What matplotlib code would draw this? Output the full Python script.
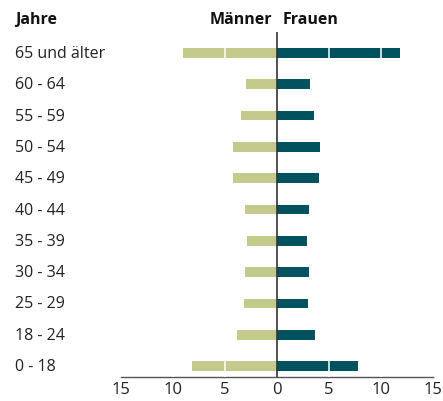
import matplotlib
matplotlib.use("Agg")
import matplotlib.pyplot as plt
import matplotlib.transforms as mtransforms

categories = ["65 und älter", "60 - 64", "55 - 59", "50 - 54", "45 - 49", "40 - 44",
              "35 - 39", "30 - 34", "25 - 29", "18 - 24", "0 - 18"]
maenner = [9.0, 3.0, 3.5, 4.2, 4.2, 3.1, 2.9, 3.1, 3.2, 3.85, 8.2]
frauen = [11.8, 3.2, 3.6, 4.1, 4.0, 3.1, 2.85, 3.05, 3.0, 3.65, 7.8]
ticks = [-15, -10, -5, 0, 5, 10, 15]
tick_labels = ["15", "10", "5", "0", "5", "10", "15"]

plt.rcParams['font.family'] = ['Open Sans', 'DejaVu Sans']

fig = plt.figure(figsize=(4.43, 4.02), dpi=100)
ax = fig.add_axes([121/443, 1 - 378/402, (433-121)/443, (378-33)/402])

n = len(categories)
ypos = list(range(n - 1, -1, -1))
h = 0.31
green = "#c4c98c"
teal = "#00525e"

ax.barh(ypos, [-v for v in maenner], height=h, color=green, zorder=2)
ax.barh(ypos, frauen, height=h, color=teal, zorder=2)
for x in [-10, -5, 5, 10]:
    ax.axvline(x, color="white", lw=1.1, zorder=3)
ax.axvline(0, color="#333333", lw=1.2, zorder=4)

ax.set_xlim(-15, 15)
ax.set_ylim(-0.35, n - 1 + 0.67)
ax.set_xticks(ticks)
ax.set_xticklabels(tick_labels, fontsize=12, color="#222222")
ax.set_yticks([])
for s in ["top", "right", "left"]:
    ax.spines[s].set_visible(False)
ax.spines["bottom"].set_color("#555555")
ax.spines["bottom"].set_linewidth(1.0)
ax.tick_params(axis="x", length=0, pad=3)

trans = mtransforms.blended_transform_factory(fig.transFigure, ax.transData)
for y, c in zip(ypos, categories):
    ax.text(15/443, y, c, transform=trans, fontsize=11.5, color="#222222",
            ha="left", va="center")

fig.text(15/443, 1 - 20/402, "Jahre", fontsize=11.5, fontweight="bold", ha="left", va="center", color="#111111")
fig.text(272/443, 1 - 20/402, "Männer", fontsize=11.5, fontweight="bold", ha="right", va="center", color="#111111")
fig.text(283/443, 1 - 20/402, "Frauen", fontsize=11.5, fontweight="bold", ha="left", va="center", color="#111111")

fig.savefig("out.png", dpi=100)
